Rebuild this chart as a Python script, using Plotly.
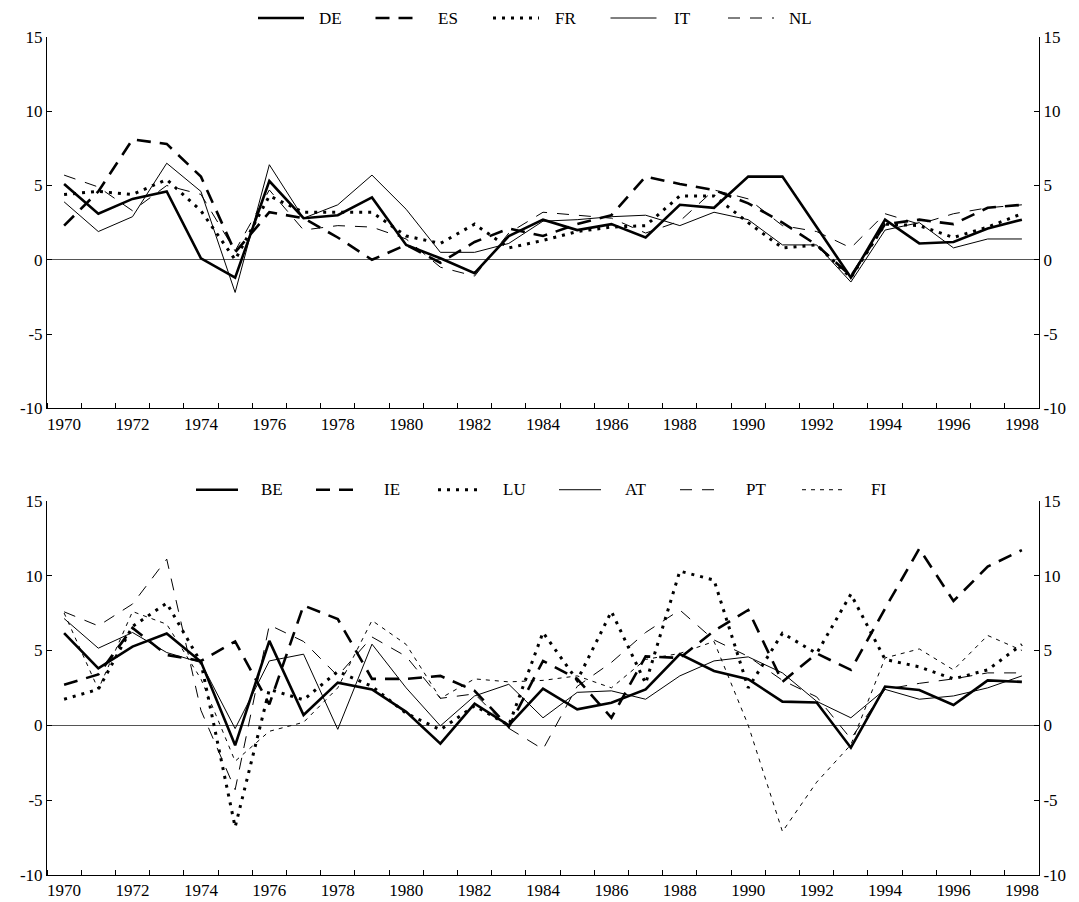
import plotly.graph_objects as go

years = list(range(1970, 1999))

# Top panel series
DE = [5.1, 3.1, 4.1, 4.6, 0.1, -1.2, 5.3, 2.8, 3.0, 4.2, 1.0, 0.1, -0.9, 1.6, 2.7, 2.0, 2.4, 1.5, 3.7, 3.5, 5.6, 5.6, 2.2, -1.2, 2.7, 1.1, 1.2, 2.1, 2.7]
ES = [2.3, 4.6, 8.1, 7.8, 5.6, 0.5, 3.2, 2.8, 1.5, 0.0, 1.0, -0.2, 1.2, 2.1, 1.6, 2.4, 3.0, 5.6, 5.1, 4.7, 3.8, 2.5, 1.0, -1.1, 2.4, 2.7, 2.4, 3.5, 3.7]
FR = [4.4, 4.6, 4.4, 5.4, 3.3, 0.0, 4.3, 3.2, 3.2, 3.2, 1.6, 1.1, 2.4, 0.8, 1.3, 1.9, 2.2, 2.3, 4.3, 4.3, 2.5, 0.8, 1.0, -1.2, 2.4, 2.3, 1.5, 2.2, 3.1]
IT = [3.9, 1.9, 2.9, 6.5, 4.6, -2.2, 6.4, 2.8, 3.7, 5.7, 3.4, 0.5, 0.5, 1.1, 2.6, 2.7, 2.9, 3.0, 2.3, 3.2, 2.7, 1.0, 1.0, -1.5, 2.0, 2.5, 0.8, 1.4, 1.4]
NL = [5.7, 4.9, 3.3, 5.0, 4.4, 0.6, 4.7, 2.0, 2.3, 2.2, 1.4, -0.5, -1.1, 1.8, 3.2, 3.0, 2.8, 1.8, 2.6, 4.7, 4.1, 2.3, 1.9, 0.8, 3.1, 2.4, 3.1, 3.5, 3.7]

# Bottom panel series
BE = [6.15, 3.8, 5.26, 6.13, 4.24, -1.34, 5.64, 0.69, 2.85, 2.4, 0.9, -1.23, 1.45, 0.0, 2.45, 1.07, 1.5, 2.4, 4.75, 3.63, 3.08, 1.58, 1.52, -1.5, 2.59, 2.36, 1.36, 3.0, 2.9]
IE = [2.7, 3.4, 6.5, 4.7, 4.3, 5.6, 1.4, 8.0, 7.1, 3.1, 3.1, 3.3, 2.3, -0.1, 4.3, 3.1, 0.5, 4.6, 4.5, 6.3, 7.7, 2.9, 4.8, 3.7, 7.8, 11.8, 8.3, 10.6, 11.7]
LU = [1.74, 2.4, 6.6, 8.16, 4.2, -6.8, 2.4, 1.7, 3.6, 2.6, 0.8, -0.3, 1.3, 0.0, 6.2, 3.0, 7.6, 2.8, 10.3, 9.7, 2.5, 6.15, 4.8, 8.76, 4.4, 3.9, 3.1, 3.7, 5.4]
AT = [7.13, 5.15, 6.2, 4.86, 4.19, -0.22, 4.3, 4.75, -0.27, 5.42, 2.5, -0.04, 1.96, 2.74, 0.5, 2.2, 2.3, 1.74, 3.3, 4.3, 4.57, 3.5, 1.6, 0.5, 2.4, 1.74, 1.96, 2.5, 3.3]
PT = [7.58, 6.64, 8.1, 11.1, 1.0, -4.3, 6.7, 5.6, 3.3, 5.9, 4.6, 1.8, 2.1, -0.2, -1.6, 2.6, 4.2, 6.2, 7.7, 5.7, 4.6, 3.0, 1.9, -0.9, 2.4, 2.8, 3.1, 3.5, 3.5]
FI = [7.5, 2.4, 7.6, 6.75, 3.1, -2.4, -0.4, 0.2, 2.5, 7.0, 5.4, 1.8, 3.1, 2.9, 3.0, 3.3, 2.5, 4.4, 4.8, 5.6, 0.0, -7.1, -3.8, -1.3, 4.5, 5.1, 3.7, 6.0, 5.0]

year_ticks = list(range(1970, 1999, 2))
y_ticks = [-10, -5, 0, 5, 10, 15]
y_ticktext = ["-10", "-5", "0", "5", "10", "15"]

top_series = [("DE", DE), ("ES", ES), ("FR", FR), ("IT", IT), ("NL", NL)]
bot_series = [("BE", BE), ("IE", IE), ("LU", LU), ("AT", AT), ("PT", PT), ("FI", FI)]

styles = [
    dict(width=2.6, dash="solid"),
    dict(width=2.6, dash="14px,9px"),
    dict(width=3.0, dash="3px,6px"),
    dict(width=1.0, dash="solid"),
    dict(width=1.0, dash="12px,10px"),
    dict(width=1.0, dash="4px,5px"),
]

FONT = "Liberation Serif"

fig = go.Figure()
for i, (name, vals) in enumerate(top_series):
    fig.add_trace(go.Scatter(x=years, y=vals, name=name, mode="lines",
                             line=dict(color="black", **styles[i]),
                             xaxis="x", yaxis="y", showlegend=False))
for i, (name, vals) in enumerate(bot_series):
    fig.add_trace(go.Scatter(x=years, y=vals, name=name, mode="lines",
                             line=dict(color="black", **styles[i]),
                             xaxis="x2", yaxis="y2", showlegend=False))
# carriers for the right-hand axes
fig.add_trace(go.Scatter(x=[1970], y=[0], mode="markers", marker=dict(opacity=0),
                         xaxis="x", yaxis="y3", showlegend=False, hoverinfo="skip"))
fig.add_trace(go.Scatter(x=[1970], y=[0], mode="markers", marker=dict(opacity=0),
                         xaxis="x2", yaxis="y4", showlegend=False, hoverinfo="skip"))

# page body has an 8px margin: figure coords = screen coords - 8
OFF = 8
W, H = 1071, 894
ml = 47 - OFF
mr = W - (1039 - OFF)
mt = 37 - OFF
mb = H - (875.5 - OFF)
pw = W - ml - mr
ph = H - mt - mb


def py(pix):
    return (H - mb - (pix - OFF)) / ph


def px(pix):
    return ((pix - OFF) - ml) / pw


top_dom = [py(408.5), 1.0]
bot_dom = [0.0, py(501)]

xax = dict(range=[1969.5, 1998.5], tickmode="array", tickvals=year_ticks,
           ticks="", showline=True, linecolor="black", linewidth=1,
           showgrid=False, zeroline=False, automargin=False,
           tickfont=dict(family=FONT, size=17, color="black"),
           minor=dict(tickmode="linear", tick0=1969.5, dtick=1, ticks="inside",
                      ticklen=5, tickcolor="black", showgrid=False))
yax = dict(range=[-10, 15], tickmode="array", tickvals=y_ticks, ticktext=y_ticktext,
           ticks="inside", ticklen=5, tickcolor="black", automargin=False,
           showline=True, linecolor="black", linewidth=1, showgrid=False,
           zeroline=True, zerolinecolor="#555555", zerolinewidth=1,
           tickfont=dict(family=FONT, size=17, color="black"))
yax_r = dict(yax)
yax_r.update(side="right", zeroline=False)

fig.update_layout(
    width=W, height=H,
    margin=dict(l=ml, r=mr, t=mt, b=mb, autoexpand=False),
    paper_bgcolor="white", plot_bgcolor="white",
    xaxis=dict(xax, domain=[0, 1], anchor="y"),
    yaxis=dict(yax, domain=top_dom, anchor="x"),
    xaxis2=dict(xax, domain=[0, 1], anchor="y2"),
    yaxis2=dict(yax, domain=bot_dom, anchor="x2"),
    yaxis3=dict(yax_r, overlaying="y", anchor="x"),
    yaxis4=dict(yax_r, overlaying="y2", anchor="x2"),
    showlegend=False,
)

# Hand-drawn legends (line sample + label) above each panel
shapes = []
annotations = []
top_leg_y = 18
for i, (name, _) in enumerate(top_series):
    x0 = 258 + 117.5 * i
    shapes.append(dict(type="line", xref="paper", yref="paper",
                       x0=px(x0), x1=px(x0 + 46), y0=py(top_leg_y), y1=py(top_leg_y),
                       line=dict(color="black", **styles[i])))
    annotations.append(dict(text=name, xref="paper", yref="paper",
                            x=px(x0 + 72), y=py(top_leg_y), showarrow=False,
                            xanchor="center", yanchor="middle", borderpad=0,
                            font=dict(family=FONT, size=17, color="black")))
bot_leg_y = 490
bot_x0 = [196, 316, 438, 559, 680, 802]
for i, (name, _) in enumerate(bot_series):
    x0 = bot_x0[i]
    shapes.append(dict(type="line", xref="paper", yref="paper",
                       x0=px(x0), x1=px(x0 + 42), y0=py(bot_leg_y), y1=py(bot_leg_y),
                       line=dict(color="black", **styles[i])))
    annotations.append(dict(text=name, xref="paper", yref="paper",
                            x=px(x0 + 76), y=py(bot_leg_y), showarrow=False,
                            xanchor="center", yanchor="middle", borderpad=0,
                            font=dict(family=FONT, size=17, color="black")))
fig.update_layout(shapes=shapes, annotations=annotations)

fig.write_html("out.html")
